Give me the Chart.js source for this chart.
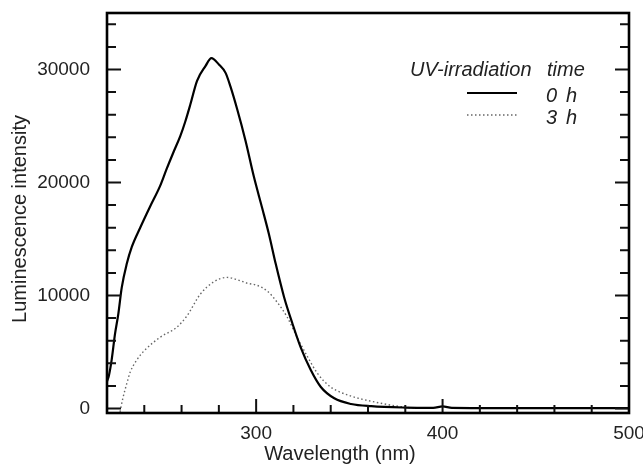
<!DOCTYPE html>
<html>
<head>
<meta charset="utf-8">
<script src="https://cdn.jsdelivr.net/npm/chart.js@4"></script>
<style>
html,body{margin:0;padding:0;background:#fff;}
</style>
</head>
<body>
<canvas id="myChart" width="643" height="466"></canvas>
<script>
// 0 h spectrum
var wl0=[220,221,222.5,224.3,226.1,227.9,230.6,233.3,237.8,243.2,248.5,252,255.7,259.3,262,264.7,268.3,272.8,276,280,283.6,286.2,289.8,294.3,298.8,303.3,306.9,310.5,315,319.5,323.9,329.3,334.7,341.9,350.9,361.7,380,395,400,405,430,460,500];
var int0=[2400,2900,4300,6600,8400,10700,12800,14300,16000,17900,19700,21200,22700,24100,25400,26900,29000,30300,31000,30450,29700,28500,26500,23700,20500,17700,15400,12800,9850,7500,5400,3400,1900,900,400,200,80,60,180,60,40,40,40];
// 3 h spectrum
var wl3=[227,228.5,230.6,232.4,236,240.5,248.5,257.5,262.9,270,277.2,284.4,289.8,295,300.5,305.9,311.3,316.6,322,327.5,332.9,340,350.9,363.4,376,383.2,392];
var int3=[-300,900,2200,3200,4300,5200,6300,7200,8200,10100,11200,11600,11400,11100,10900,10400,9400,8100,6300,4600,3100,1900,1100,580,200,60,0];

var xTicks=[300,400,500];
var yTicks=[0,10000,20000,30000];
var legendTitle=['UV-irradiation','time'];
var seriesLabels=['0','3'];
var unitLabel='h';

function pts(xs,ys){ var out=[]; for(var i=0;i<xs.length;i++){ out.push({x:xs[i],y:ys[i]}); } return out; }

var fontFam='"Liberation Sans", Arial, sans-serif';

var frameTicks={
  id:'frameTicks',
  afterDatasetsDraw(chart){
    var ctx=chart.ctx, a=chart.chartArea, xs=chart.scales.x, ys=chart.scales.y;
    ctx.save();
    ctx.strokeStyle='#111';
    ctx.lineWidth=2;
    ctx.beginPath();
    for(var v=240;v<=500;v+=20){
      var px=xs.getPixelForValue(v);
      var len=(v%100===0)?14:8;
      ctx.moveTo(px,a.bottom); ctx.lineTo(px,a.bottom-len);
    }
    for(var w=0;w<=34000;w+=2000){
      var py=ys.getPixelForValue(w);
      var l2=(w%10000===0)?14:9;
      ctx.moveTo(a.left,py); ctx.lineTo(a.left+l2,py);
      ctx.moveTo(a.right,py); ctx.lineTo(a.right-l2,py);
    }
    ctx.stroke();
    ctx.lineWidth=2.6;
    ctx.strokeStyle='#000';
    ctx.strokeRect(a.left,a.top,a.right-a.left,a.bottom-a.top);

    // axis titles
    ctx.fillStyle='#222';
    ctx.font='20px '+fontFam;
    ctx.textAlign='center';
    ctx.textBaseline='middle';
    ctx.fillText('Wavelength (nm)',340,454);
    ctx.save();
    ctx.translate(20,219);
    ctx.rotate(-Math.PI/2);
    ctx.fillText('Luminescence intensity',0,0);
    ctx.restore();

    // legend
    var ds=chart.data.datasets;
    ctx.font='italic 20px '+fontFam;
    ctx.textAlign='left';
    ctx.fillText(legendTitle[0],410,70);
    ctx.fillText(legendTitle[1],547,70);
    var rows=[96,118];
    for(var i=0;i<ds.length;i++){
      ctx.beginPath();
      ctx.strokeStyle=ds[i].borderColor;
      ctx.lineWidth=ds[i].borderWidth;
      ctx.setLineDash(ds[i].borderDash||[]);
      ctx.moveTo(467,rows[i]-3); ctx.lineTo(517,rows[i]-3);
      ctx.stroke();
      ctx.setLineDash([]);
      ctx.fillText(seriesLabels[i],546,rows[i]);
      ctx.fillText(unitLabel,566,rows[i]);
    }
    ctx.restore();
  }
};

var ctx=document.getElementById('myChart').getContext('2d');
var myChart=new Chart(ctx,{
  type:'line',
  data:{
    datasets:[{
      label:'0 h',
      data:pts(wl0,int0),
      borderColor:'#000',
      borderWidth:2.2,
      pointRadius:0,
      cubicInterpolationMode:'monotone',
      fill:false
    },{
      label:'3 h',
      data:pts(wl3,int3),
      borderColor:'#666',
      borderWidth:1.4,
      borderDash:[1.5,2.5],
      pointRadius:0,
      cubicInterpolationMode:'monotone',
      fill:false
    }]
  },
  plugins:[frameTicks],
  options:{
    responsive:false,
    devicePixelRatio:1,
    animation:false,
    layout:{padding:{top:13,right:14,left:0,bottom:0}},
    plugins:{legend:{display:false},tooltip:{enabled:false}},
    scales:{
      x:{
        type:'linear',
        min:220,max:500,
        grid:{display:false,drawTicks:false},
        border:{display:false},
        afterBuildTicks:function(s){ s.ticks=xTicks.map(function(v){return {value:v};}); },
        afterFit:function(s){ s.height=53; s.paddingLeft=0; s.paddingRight=0; },
        ticks:{padding:9,maxRotation:0,autoSkip:false,color:'#222',font:{size:19,family:fontFam},
          callback:function(v){ return String(v); }}
      },
      y:{
        min:-400,max:35000,
        grid:{display:false,drawTicks:false},
        border:{display:false},
        afterBuildTicks:function(s){ s.ticks=yTicks.map(function(v){return {value:v};}); },
        afterFit:function(s){ s.width=107; s.paddingTop=0; s.paddingBottom=0; },
        ticks:{padding:17,color:'#222',font:{size:19,family:fontFam},
          callback:function(v){ return String(v); }}
      }
    }
  }
});
</script>
</body>
</html>
